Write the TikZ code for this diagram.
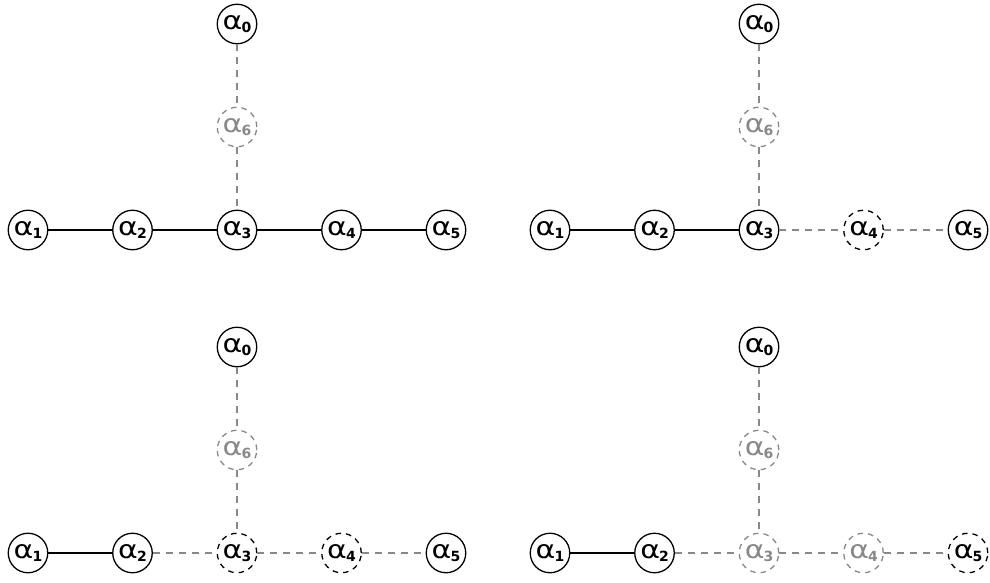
\documentclass[tikz,border=0pt]{standalone}
\usepackage{fontspec}
\setmainfont{DejaVu Sans}
\definecolor{dimgray}{HTML}{888888}
\newcommand{\rt}[1]{{\fontsize{25}{25}\selectfont\scalebox{1.2}[1]{α}\kern-1pt\raisebox{-3pt}{\fontsize{14}{14}\selectfont\bfseries #1}}}
\tikzset{
  root/.style={circle, draw=black, line width=1.3pt, minimum size=39.5pt, inner sep=0pt, text=black},
  rootoff/.style={root, dash pattern=on 5.5pt off 5pt},
  rootgone/.style={rootoff, draw=dimgray, text=dimgray},
  bond/.style={line width=1.4pt, draw=black},
  bondoff/.style={line width=1.3pt, draw=dimgray, dash pattern=on 7pt off 6pt},
}
% one affine diagram: #1,#2 shift; #3..#6 styles of roots 3, 4, 5 and 6;
% #7 style of bond 2-3; #8 style of bonds 3-4 and 4-5
\newcommand{\dyn}[8]{%
  \begin{scope}[shift={(#1,#2)}]
    \node[root] (a0) at (209,206) {\rt{0}};
    \node[#6] (a6) at (209,103) {\rt{6}};
    \node[root] (a1) at (0,0) {\rt{1}};
    \node[root] (a2) at (104.5,0) {\rt{2}};
    \node[#3] (a3) at (209,0) {\rt{3}};
    \node[#4] (a4) at (313.5,0) {\rt{4}};
    \node[#5] (a5) at (418,0) {\rt{5}};
    \draw[bond] (a1) -- (a2);
    \draw[#7] (a2) -- (a3);
    \draw[#8] (a3) -- (a4);
    \draw[#8] (a4) -- (a5);
    \draw[bondoff] (a0) -- (a6);
    \draw[bondoff] (a6) -- (a3);
  \end{scope}}
\begin{document}
\begin{tikzpicture}[x=1pt,y=1pt]
  \useasboundingbox (0,0) rectangle (990,-583);
  % top left: full diagram
  \dyn{28}{-230}{root}{root}{root}{rootgone}{bond}{bond}
  % top right
  \dyn{550}{-230}{root}{rootoff}{root}{rootgone}{bond}{bondoff}
  % bottom left
  \dyn{28}{-553}{rootoff}{rootoff}{root}{rootgone}{bondoff}{bondoff}
  % bottom right
  \dyn{550}{-553}{rootgone}{rootgone}{rootoff}{rootgone}{bondoff}{bondoff}
\end{tikzpicture}
\end{document}
